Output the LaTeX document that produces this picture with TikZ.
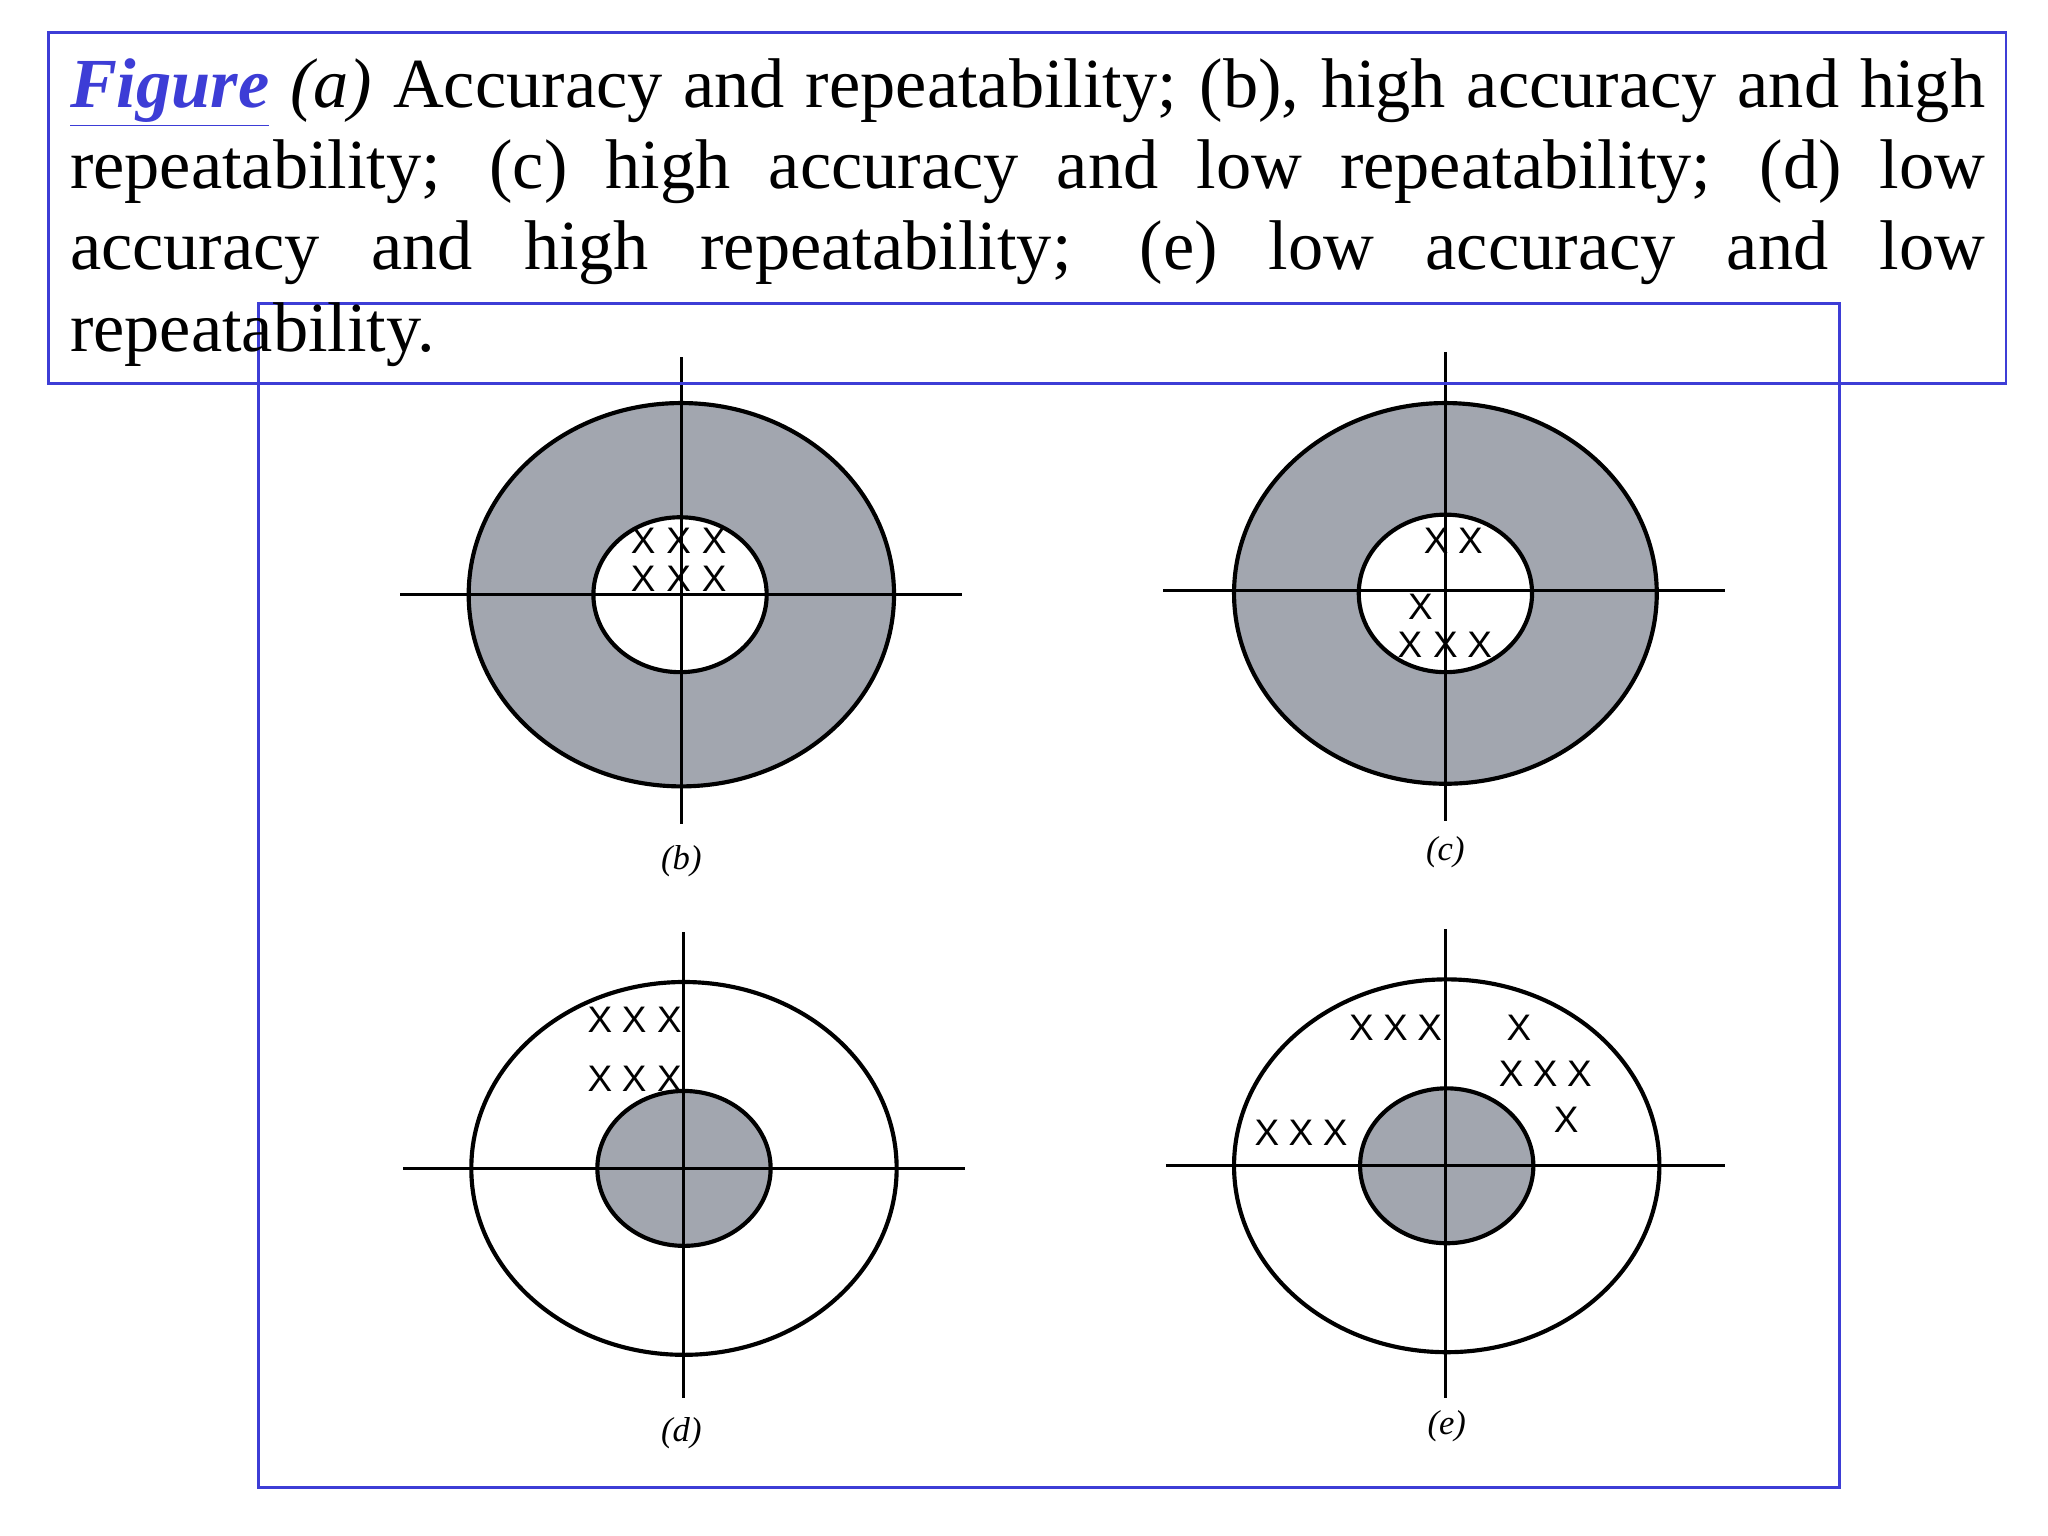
\documentclass[tikz,border=0pt]{standalone}
\usepackage{fontspec}
\setmainfont{Liberation Serif}
\newfontfamily\xfont{Liberation Sans}
\definecolor{frameblue}{HTML}{3D3DD6}
\definecolor{ringgray}{HTML}{A2A6AF}
\tikzset{
  frame/.style={draw=frameblue,line width=1.2pt},
  ring/.style={draw=black,line width=1.8pt},
  axis/.style={draw=black,line width=1.3pt},
  xm/.style={font=\xfont\fontsize{16}{16}\selectfont,inner sep=0pt},
  plab/.style={font=\fontsize{15}{15}\selectfont\itshape,inner sep=0pt}
}
\newcommand{\ulfig}[1]{\underline{#1}}
\begin{document}
\begin{tikzpicture}[x=0.02cm,y=-0.02cm]
\useasboundingbox (0,0) rectangle (1560,1170);
\fill[white] (0,0) rectangle (1560,1170);
% panel b
\begin{scope}
\fill[ringgray,ring] (519,453) ellipse [x radius=162,y radius=146];
\fill[white,ring] (518,453) ellipse [x radius=66,y radius=59];
\coordinate (bl) at (305,453); \coordinate (br) at (733,453);
\coordinate (bt) at (519,272); \coordinate (bb) at (519,628);
\draw[axis] (bl) -- (br); \draw[axis] (bt) -- (bb);
\foreach \x in {490,517,544}{\foreach \y in {412,441}{\node[xm] at (\x,\y) {X};}}
\node[plab] (lb) at (519,656) {(b)};
\end{scope}
% panel c
\begin{scope}
\fill[ringgray,ring] (1101,452) ellipse [x radius=161,y radius=145];
\fill[white,ring] (1101,452) ellipse [x radius=66,y radius=60];
\coordinate (cl) at (886,450); \coordinate (cr) at (1314,450);
\coordinate (ct) at (1101,268); \coordinate (cb) at (1101,625);
\draw[axis] (cl) -- (cr); \draw[axis] (ct) -- (cb);
\foreach \p in {(1094,412),(1120,412),(1082,462),(1074,491),(1101,491),(1127,491)}{\node[xm] at \p {X};}
\node[plab] (lc) at (1101,649) {(c)};
\end{scope}
% panel d
\begin{scope}
\draw[ring,fill=white] (521,890) ellipse [x radius=162,y radius=142];
\fill[ringgray,ring] (521,890) ellipse [x radius=66,y radius=59];
\coordinate (dl) at (307,890); \coordinate (dr) at (735,890);
\coordinate (dt) at (521,710); \coordinate (db) at (521,1065);
\draw[axis] (dl) -- (dr); \draw[axis] (dt) -- (db);
\foreach \x in {457,483,510}{\foreach \y in {777,822}{\node[xm] at (\x,\y) {X};}}
\node[plab] (ld) at (519,1092) {(d)};
\end{scope}
% panel e
\begin{scope}
\draw[ring,fill=white] (1102,888) ellipse [x radius=162,y radius=142];
\fill[ringgray,ring] (1102,888) ellipse [x radius=66,y radius=59];
\coordinate (el) at (888,888); \coordinate (er) at (1314,888);
\coordinate (et) at (1101,708); \coordinate (eb) at (1101,1065);
\draw[axis] (el) -- (er); \draw[axis] (et) -- (eb);
\foreach \p in {(1037,783),(1063,783),(1089,783),(1157,783),(1151,818),(1177,818),(1203,818),(1193,853),(965,863),(991,863),(1017,863)}{\node[xm] at \p {X};}
\node[plab] (le) at (1102,1086) {(e)};
\end{scope}
% frames
\draw[frame] (197,231) rectangle (1401,1133);
\draw[frame] (37,25) rectangle (1528,292);
\node[anchor=north west,inner sep=0pt,text width=29.18cm,align=justify,
  font=\fontsize{30.5}{35.3}\selectfont] (cap) at (53,44)
{\textcolor{frameblue}{\ulfig{\textbf{\textit{Figure}}}} \textit{(a)} Accuracy and repeatability; (b), high accuracy and high\linebreak
repeatability; (c) high accuracy and low repeatability; (d) low\linebreak
accuracy and high repeatability; (e) low accuracy and low\linebreak
repeatability.};
\end{tikzpicture}
\end{document}
